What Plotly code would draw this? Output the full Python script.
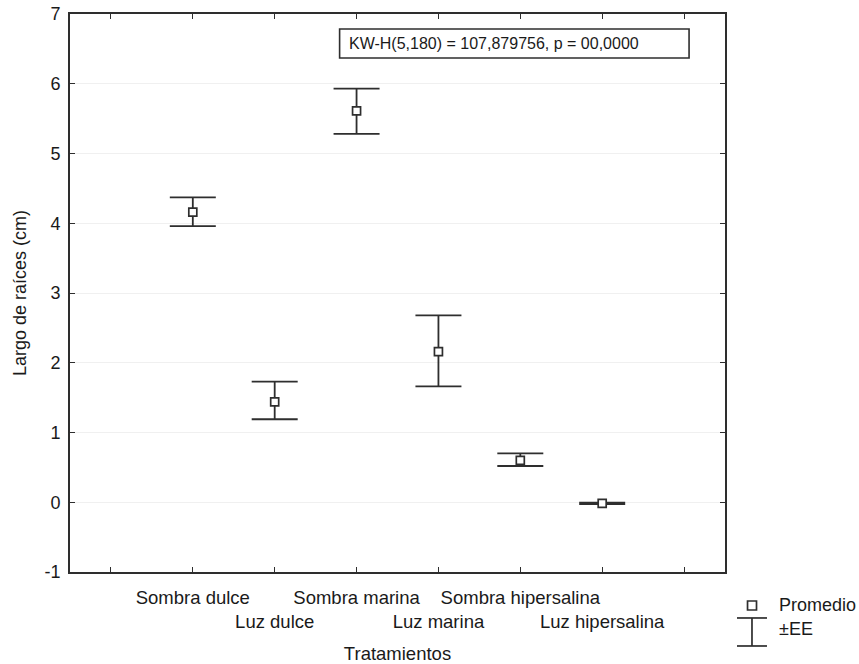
import plotly.graph_objects as go

categories = ["Sombra dulce", "Luz dulce", "Sombra marina", "Luz marina",
              "Sombra hipersalina", "Luz hipersalina"]
means = [4.16, 1.44, 5.61, 2.16, 0.60, -0.015]
err_plus = [0.21, 0.29, 0.32, 0.52, 0.10, 0.01]
err_minus = [0.20, 0.25, 0.33, 0.50, 0.08, 0.01]
y_ticks = [-1, 0, 1, 2, 3, 4, 5, 6, 7]
y_ticklabels = ["-1", "0", "1", "2", "3", "4", "5", "6", "7"]
stat_text = "KW-H(5,180) = 107,879756, p = 00,0000"

FONT = "Liberation Sans, Arial, sans-serif"
INK = "#2e2e2e"
TXT = "#1a1a1a"

x_idx = list(range(len(categories)))
tickvals = [-1] + x_idx + [len(categories)]
ticktext = [""] + [c if i % 2 == 0 else "<br>" + c for i, c in enumerate(categories)] + [""]

fig = go.Figure()
fig.add_trace(go.Scatter(
    x=x_idx, y=means, mode="markers",
    marker=dict(symbol="square", size=8, color="white",
                line=dict(color=INK, width=1.7)),
    error_y=dict(type="data", symmetric=False, array=err_plus, arrayminus=err_minus,
                 color=INK, thickness=1.8, width=23),
    showlegend=False, hoverinfo="skip",
))

fig.update_layout(
    width=859, height=664,
    margin=dict(l=70, r=134, t=14, b=92),
    paper_bgcolor="white", plot_bgcolor="white",
    font=dict(family=FONT, size=18, color=TXT),
    xaxis=dict(range=[-1.5, 6.5], tickvals=tickvals, ticktext=ticktext, tickangle=0,
               ticks="inside", ticklen=5, tickwidth=1.4, tickcolor=INK,
               showline=True, linecolor=INK, linewidth=1.7, mirror="ticks",
               showgrid=False, zeroline=False, ticklabelstandoff=8, automargin=False,
               tickfont=dict(size=18.5),
               title=dict(text="Tratamientos", font=dict(size=18.5), standoff=17)),
    yaxis=dict(range=[-1, 7], tickvals=y_ticks, ticktext=y_ticklabels,
               ticks="inside", ticklen=5, tickwidth=1.4, tickcolor=INK,
               showline=True, linecolor=INK, linewidth=1.7, mirror="ticks",
               showgrid=True, gridcolor="#f0f0f0", gridwidth=1, zeroline=False,
               ticklabelstandoff=4, tickfont=dict(size=18), automargin=False,
               title=dict(text="Largo de raíces (cm)", font=dict(size=18), standoff=13)),
)

# statistic box
fig.add_shape(type="rect", xref="x", yref="y", x0=1.793, x1=6.061, y0=6.369, y1=6.785,
              line=dict(color=INK, width=1.6), fillcolor="white")
fig.add_annotation(xref="x", yref="y", x=1.878, y=6.577, text=stat_text,
                   showarrow=False, xanchor="left", yanchor="middle",
                   font=dict(size=16, color=TXT))

# manual legend
fig.add_shape(type="rect", xref="paper", yref="paper", x0=1.0344, x1=1.0481,
              y0=-0.0681, y1=-0.052, line=dict(color=INK, width=1.7), fillcolor="white")
fig.add_annotation(xref="paper", yref="paper", x=1.0794, y=-0.0591, text="Promedio",
                   showarrow=False, xanchor="left", yanchor="middle", font=dict(size=18))
for yy in (-0.0824, -0.1326):
    fig.add_shape(type="line", xref="paper", yref="paper", x0=1.0183, x1=1.0641,
                  y0=yy, y1=yy, line=dict(color=INK, width=1.7))
fig.add_shape(type="line", xref="paper", yref="paper", x0=1.0412, x1=1.0412,
              y0=-0.0824, y1=-0.1326, line=dict(color=INK, width=1.7))
fig.add_annotation(xref="paper", yref="paper", x=1.0794, y=-0.1022, text="±EE",
                   showarrow=False, xanchor="left", yanchor="middle", font=dict(size=18))

fig.write_html("out.html", config={"displayModeBar": False},
               post_script="document.body.style.margin='0';")
